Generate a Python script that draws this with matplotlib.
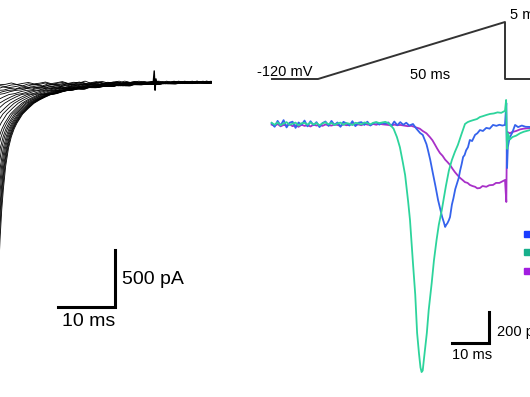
import matplotlib
matplotlib.use('Agg')
import matplotlib.pyplot as plt
from matplotlib.lines import Line2D

plt.rcParams['font.family'] = ['Liberation Sans', 'DejaVu Sans']

# ---- left panel: family of Na currents (ms, pA) ----
fam_t = [4.6, 5.0, 5.3, 5.6, 6.0, 6.5, 7.0, 7.5, 8.0, 9.0, 10.0, 11.0, 12.0,
         13, 14, 15, 16, 17, 18, 19, 20, 21, 22, 23, 24, 25, 26, 27, 28, 29, 30,
         31, 32, 33, 34, 35, 36, 37, 38, 39, 40, 41, 42, 43, 44, 45, 46, 47, 48,
         49, 50, 51, 52, 53, 54, 55, 56, 57, 58, 59, 60, 62, 64, 66, 68, 70]
fam_i = [-1900, -1411, -1150, -960, -760, -600, -500, -430, -379, -300, -250, -205, -175,
         -150, -128, -120, -104, -92, -88, -74, -80, -62, -68, -60, -50, -58, -44, -40,
         -52, -34, -42, -38, -26, -40, -30, -22, -34, -28, -18, -32, -24, -14, -30, -20,
         -26, -10, -28, -22, -12, -26, -18, -24, -10, -22, -28, -14, -20, -12, -26, -16,
         -22, -14, -24, -18, -12, -22]
fam_shift = [0, 0.13, 0.25, 0.37, 0.54, 0.72, 0.92, 1.19, 1.45, 1.8, 2.15, 2.8, 3.5,
             4.2, 5.2, 6.1, 7.4, 9.3, 10.6, 12.3, 15.5, 19, 25]
artifact_t = [32.0, 32.2, 32.35, 32.5, 32.7]
artifact_i = [-35, 80, -90, 10, -35]

# ---- right panel: ramp protocol (ms, mV) ----
ramp_t = [-12.3, 0, 50, 50, 60]
ramp_v = [-120, -120, 5, -120, -120]

# ---- right panel: ramp currents (ms, pA) ----
base_t = [-12.4, -11.6, -10.8, -10.0, -9.2, -8.4, -7.6, -6.8, -6.0, -5.2, -4.4, -3.6,
          -2.8, -2.0, -1.2, -0.4, 0.4, 1.2, 2.0, 2.8, 3.6, 4.4, 5.2, 6.0, 6.8, 7.6,
          8.4, 9.2, 10.0, 10.8, 11.6, 12.4, 13.2, 14.0, 14.8, 15.6, 16.4, 17.2, 18.0]
blue_base = [5, -18, 20, -10, 25, -22, 8, 15, -25, 10, -5, 22, -15, 18, -8, 12, -20, 6,
             16, -12, 20, -6, 10, -18, 14, 4, -10, 18, -14, 8, 12, -6, 15, -10, 6, 10, -4, 8, 2]
green_base = [8, -5, 10, -8, 4, 12, -6, 2, 9, -10, 5, 7, -4, 10, -3, 6, -8, 4, 11, -2,
              7, -6, 3, 9, -5, 6, 2, -7, 8, 4, -3, 10, 5, -2, 8, 12, 6, 10, 14]
purple_base = [-4, -12, 0, -15, -6, -10, -2, -14, -8, -18, -5, -12, -8, -16, -4, -10, -6,
               -12, -3, -8, -10, -4, -6, -12, -2, -8, -5, 0, -6, -3, -8, 2, -4, -6, 0, -5,
               3, -2, -4]

green_t = [18.8, 19.4, 20.2, 21.1, 21.9, 22.7, 23.3, 24.1, 24.6, 25.4, 26.0, 26.5, 27.0,
           27.4, 27.7, 28.0, 28.4, 29.1, 29.6, 30.4, 31.0, 31.7, 32.3, 33.1, 33.7, 34.2,
           35.0, 35.8, 36.6, 37.4, 38.3, 39.3, 40.0, 40.6, 41.5, 42.5, 43.3, 44.0, 45.0,
           46.0, 47.0, 48.0, 49.0, 50.0, 50.3, 50.45, 50.6, 50.8, 51.3, 52.0, 53.0, 54.0,
           55.0, 56.7, 58]
green_i = [5, -8, -30, -84, -150, -250, -330, -500, -620, -900, -1100, -1348, -1480,
           -1570, -1600, -1590, -1500, -1348, -1200, -1026, -880, -748, -650, -555, -470,
           -400, -300, -232, -180, -135, -70, 0, 12, 18, 25, 32, 45, 50, 58, 65, 68, 75, 72,
           85, 155, -100, -160, -60, -100, -84, -75, -60, -50, -39, -35]
blue_t = [18.8, 19.6, 20.4, 21.2, 22.0, 22.8, 23.6, 24.4, 25.4, 26.3, 27.3, 28.0, 28.5,
          29.0, 29.4, 30.0, 30.7, 31.4, 32.1, 32.6, 33.2, 33.6, 34.0, 34.3, 34.6, 35.0,
          35.3, 35.8, 36.2, 36.7, 37.2, 37.6, 38.0, 38.4, 38.8, 39.2, 39.6, 40.1, 40.6,
          41.2, 42.0, 42.6, 43.3, 44.1, 45.0, 45.9, 46.8, 47.7, 48.5, 49.3, 50.0, 50.35,
          50.55, 50.75, 51.2, 51.9, 52.7, 53.5, 54.5, 55.5, 56.7, 58]
blue_i = [10, -12, 16, -8, 12, -5, 8, -10, 0, -30, -58, -70, -100, -130, -168, -230, -316,
          -400, -490, -540, -600, -630, -664, -650, -640, -620, -600, -520, -480, -420,
          -381, -350, -300, -260, -213, -200, -170, -150, -103, -110, -70, -60, -39, -45,
          -25, -30, -6, -12, -5, -10, -6, 135, -284, -150, -90, -58, -6, -20, -10, -18,
          -19, -15]
purple_t = [18.8, 19.6, 20.4, 21.2, 22.0, 23.0, 24.0, 25.0, 26.2, 27.2, 28.0, 29.0, 29.9,
            30.6, 31.2, 31.9, 32.6, 33.3, 34.0, 34.6, 35.3, 36.0, 36.6, 37.3, 38.0, 38.6,
            39.3, 40.0, 40.6, 41.3, 42.0, 42.6, 43.3, 44.0, 45.0, 45.8, 46.8, 47.6, 48.5,
            49.3, 50.0, 50.35, 50.5, 50.65, 51.3, 51.9, 53, 54, 55, 56.7, 58]
purple_i = [-6, -10, -4, -8, -6, -10, -14, -12, -22, -30, -45, -60, -84, -105, -130, -160,
            -187, -205, -230, -245, -264, -290, -310, -330, -348, -360, -375, -380, -393,
            -400, -405, -415, -413, -400, -405, -395, -393, -380, -380, -370, -361, -503,
            -100, -52, -60, -52, -45, -35, -30, -26, -24]

c_blue = '#3563ec'
c_green = '#2dd49c'
c_purple = '#a830c8'
legend_colors = ['#1a3cff', '#17b08c', '#a21ee0']

fig = plt.figure(figsize=(5.3, 3.97), dpi=100)

# left panel
axl = fig.add_axes([0, 0, 212 / 530, 1])
axl.set_xlim(5, 5 + 212 / 5.67)
axl.set_ylim(-317 * 8.82, 80 * 8.82)
axl.axis('off')
for s in fam_shift:
    axl.plot([t - s for t in fam_t], fam_i, color='black', lw=0.6)
axl.plot(artifact_t, artifact_i, color='black', lw=1.0)
axl.plot([15.3, 25.3, 25.3], [-2000, -2000, -1500], color='black', lw=2.2,
         solid_joinstyle='miter')
axl.text(26.5, -1764, '500 pA', fontsize=14, va='center', ha='left')
axl.text(15.9, -2132, '10 ms', fontsize=14, va='center', ha='left')

# right panel: currents
axr = fig.add_axes([250 / 530, 0, 280 / 530, 1])
axr.set_xlim(-68 / 3.74, 212 / 3.74)
axr.set_ylim(-273 * 6.45, 124 * 6.45)
axr.axis('off')
axr.plot(base_t + purple_t, purple_base + purple_i, color=c_purple, lw=1.3)
axr.plot(base_t + blue_t, blue_base + blue_i, color=c_blue, lw=1.3)
axr.plot(base_t + green_t, green_base + green_i, color=c_green, lw=1.3)
axr.plot([35.8, 45.7, 45.7], [-1413, -1413, -1213], color='black', lw=2.2,
         solid_joinstyle='miter')
axr.text(47.9, -1342, '200 pA', fontsize=10.5, va='center', ha='left')
axr.text(35.8, -1490, '10 ms', fontsize=10.5, va='center', ha='left')

# right panel: voltage protocol
axv = fig.add_axes([250 / 530, 0, 280 / 530, 1], sharex=axr)
axv.set_ylim(-120 - 318 / 0.456, 5 + 22 / 0.456)
axv.axis('off')
axv.plot(ramp_t, ramp_v, color='#333333', lw=1.4)
axv.text(-16.3, -104, '-120 mV', fontsize=10.5, va='center', ha='left')
axv.text(29.9, -112, '50 ms', fontsize=10.5, va='center', ha='center')
axv.text(51.3, 20, '5 mV', fontsize=10.5, va='center', ha='left')

handles = [Line2D([], [], marker='s', ls='none', color=c, markersize=4.5)
           for c in legend_colors]
fig.legend(handles, ['', '', ''], loc='upper left', bbox_to_anchor=(521 / 530, 1 - 228 / 397),
           frameon=False, borderaxespad=0, borderpad=0, handlelength=0.8,
           labelspacing=0.3, fontsize=10.5)

fig.savefig('out.png', dpi=100)
